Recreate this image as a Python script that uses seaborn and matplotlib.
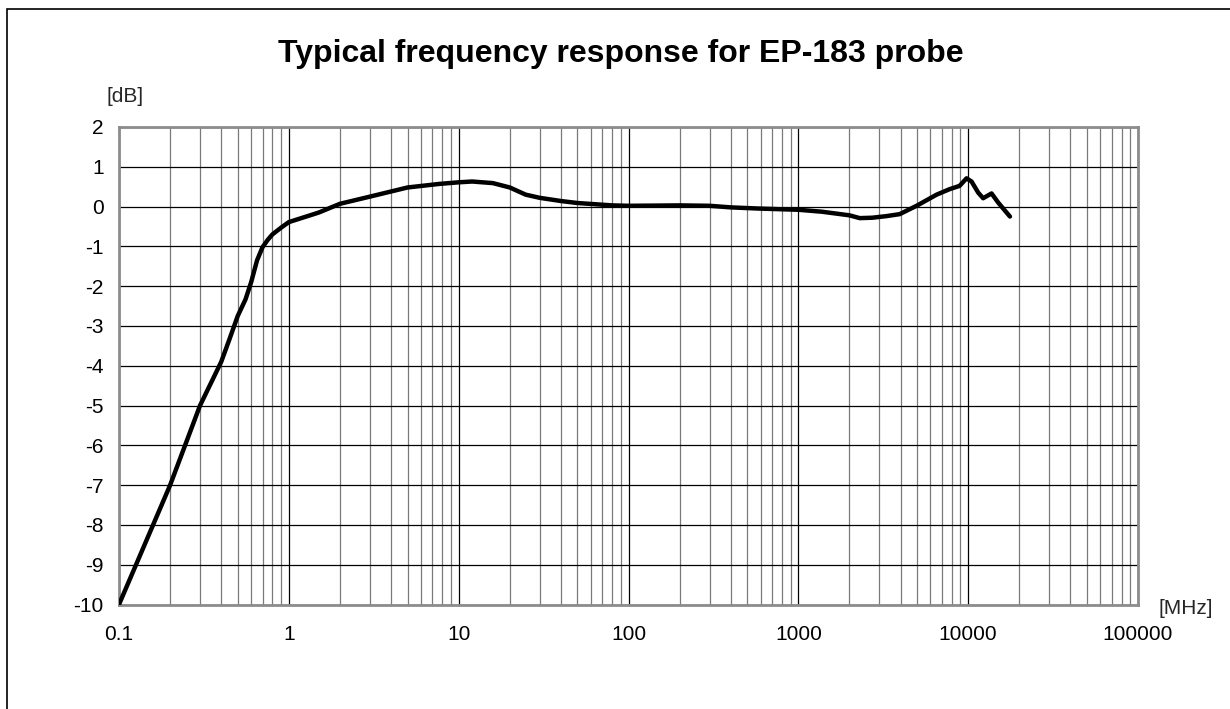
import matplotlib
matplotlib.use("Agg")
import matplotlib.pyplot as plt
import matplotlib.ticker as mticker
from matplotlib.patches import Rectangle
import seaborn as sns
import pandas as pd

# ---- data ----
freq_mhz = [0.1, 0.2, 0.3, 0.4, 0.45, 0.5, 0.556, 0.6, 0.65, 0.7, 0.75, 0.8, 0.9, 1.0,
            1.5, 2.0, 3.0, 5.0, 7.7, 10, 12, 15.9, 20, 24.8, 30, 40, 50, 80, 100, 200,
            300, 400, 587, 1000, 1384, 2000, 2300, 2720, 3300, 3950, 4970, 6520, 7800,
            8900, 9780, 10470, 11460, 12250, 13730, 15030, 16230, 17620]
response_db = [-10, -7.0, -5.0, -3.9, -3.3, -2.75, -2.33, -1.9, -1.35, -1.02, -0.84,
               -0.7, -0.53, -0.39, -0.15, 0.07, 0.25, 0.48, 0.57, 0.61, 0.63, 0.59, 0.48,
               0.30, 0.22, 0.14, 0.09, 0.03, 0.02, 0.03, 0.02, -0.02, -0.05, -0.08,
               -0.13, -0.22, -0.29, -0.28, -0.24, -0.19, 0.02, 0.30, 0.44, 0.52, 0.71,
               0.63, 0.35, 0.21, 0.33, 0.10, -0.07, -0.25]
x_ticks = [0.1, 1, 10, 100, 1000, 10000, 100000]
x_tick_labels = ["0.1", "1", "10", "100", "1000", "10000", "100000"]
y_ticks = list(range(-10, 3))
title = "Typical frequency response for EP-183 probe"
y_unit = "[dB]"
x_unit = "[MHz]"

sns.set_style("white")
plt.rcParams['font.family'] = ['Liberation Sans', 'DejaVu Sans']

W, H = 1230, 709
fig = plt.figure(figsize=(W / 100, H / 100), dpi=100)
fig.patch.set_facecolor("white")

left, right, top, bottom = 119, 1138, 127, 604.5
ax = fig.add_axes([left / W, 1 - bottom / H, (right - left) / W, (bottom - top) / H])

df = pd.DataFrame({"freq": freq_mhz, "db": response_db})
sns.lineplot(data=df, x="freq", y="db", ax=ax, color="black", linewidth=3.2,
             sort=False, zorder=5)

ax.set_xscale("log")
ax.set_xlim(0.1, 100000)
ax.set_ylim(-10, 2)
ax.set_xticks(x_ticks)
ax.set_xticklabels(x_tick_labels)
ax.xaxis.set_minor_locator(mticker.LogLocator(base=10, subs=range(2, 10), numticks=20))
ax.xaxis.set_minor_formatter(mticker.NullFormatter())
ax.set_yticks(y_ticks)
ax.set_yticklabels([str(v) for v in y_ticks])
ax.set_xlabel("")
ax.set_ylabel("")

ax.grid(which="major", axis="both", color="black", linewidth=0.9)
ax.grid(which="minor", axis="x", color="#7a7a7a", linewidth=0.9)
ax.set_axisbelow(True)

ax.tick_params(axis="both", which="major", direction="out", length=5, width=1,
               color="black", labelsize=15, labelcolor="black")
ax.tick_params(axis="y", pad=6)
ax.tick_params(axis="x", pad=10)
ax.tick_params(axis="x", which="minor", length=0)
ax.tick_params(top=False, right=False)

for s in ax.spines.values():
    s.set_visible(True)
    s.set_color("#8c8c8c")
    s.set_linewidth(2)

fig.text(621 / W, 1 - 62 / H, title, ha="center", va="baseline",
         fontsize=23, fontweight="bold", color="black")
fig.text(107 / W, 1 - 96 / H, y_unit, ha="left", va="center", fontsize=15)
fig.text(1158 / W, 1 - 609 / H, x_unit, ha="left", va="center", fontsize=15)

fig.patches.append(Rectangle((7 / W, -0.1), 2, 1 - 9 / H + 0.1, fill=False,
                             edgecolor="black", linewidth=1.2,
                             transform=fig.transFigure, figure=fig))

fig.savefig("out.png", dpi=100, facecolor="white")
